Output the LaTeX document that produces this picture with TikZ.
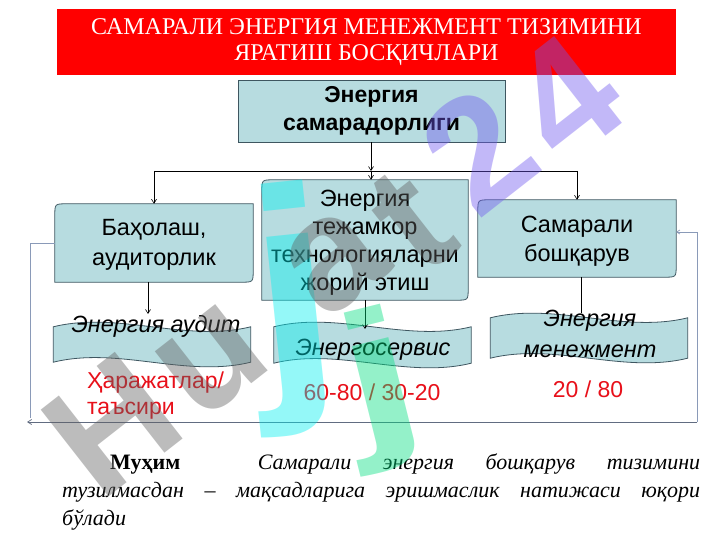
\documentclass[tikz,border=0pt]{standalone}
\usepackage{fontspec}
\setmainfont{Liberation Serif}
\newfontfamily\sansf{Liberation Sans}
\usetikzlibrary{arrows.meta,calc,backgrounds}
\definecolor{boxfill}{HTML}{B7DCE0}
\definecolor{boxline}{HTML}{3E5660}
\definecolor{redtxt}{HTML}{E8101A}
\definecolor{fbline}{HTML}{8A9AB8}
\definecolor{wmgray}{HTML}{606060}
\definecolor{wmcyan}{HTML}{00F0F0}
\definecolor{wmgreen}{HTML}{00E080}
\definecolor{wmpurple}{HTML}{7058F0}
\newcommand\rdshape[1]{%
  \path[boxshape] ([yshift=-12pt]#1.north west) .. controls (#1.north west) .. ([xshift=12pt]#1.north west)
    -- (#1.north east) -- ([yshift=12pt]#1.south east) .. controls (#1.south east) .. ([xshift=-12pt]#1.south east)
    -- (#1.south west) -- cycle;}
\newcommand\waveshape[1]{%
  \path[boxshape] (#1.north west) .. controls ($(#1.north west)!.33!(#1.north east)+(0,-16)$) and ($(#1.north west)!.67!(#1.north east)+(0,16)$) .. (#1.north east)
    -- (#1.south east) .. controls ($(#1.south west)!.67!(#1.south east)+(0,16)$) and ($(#1.south west)!.33!(#1.south east)+(0,-16)$) .. (#1.south west) -- cycle;}
\begin{document}
\begin{tikzpicture}[x=1pt,y=-1pt,font=\sansf,
  boxshape/.style={draw=boxline,fill=boxfill,line width=0.8pt},
  holder/.style={inner sep=0pt},
  boxtext/.style={font=\sansf\fontsize{23.5}{28}\selectfont,align=center,inner sep=0pt},
  bantext/.style={font=\sansf\itshape\fontsize{23.5}{31}\selectfont,align=center,inner sep=0pt},
  redt/.style={text=redtxt,font=\sansf\fontsize{23}{26}\selectfont,inner sep=0pt},
  conn/.style={draw=black,line width=0.6pt,-{Straight Barb[length=4pt,width=5pt]}},
  plain/.style={draw=black,line width=0.6pt},
  fb/.style={draw=fbline,line width=0.7pt},
  fbarrow/.style={draw=fbline!70!black,line width=0.7pt,-{Straight Barb[length=4pt,width=5pt]}},
  wm/.style={inner sep=0pt,opacity=0.42,font=\sansf\bfseries\fontsize{160}{160}\selectfont}]
\useasboundingbox (0,0) rectangle (720,540);

% title
\node[fill=red,minimum width=619pt,minimum height=66pt,inner sep=0pt,text=white,
  font=\rmfamily\fontsize{24}{26}\selectfont,align=center] (title) at (366.5,42)
  {САМАРАЛИ ЭНЕРГИЯ МЕНЕЖМЕНТ ТИЗИМИНИ\\ЯРАТИШ БОСҚИЧЛАРИ};

% top box
\node[draw=boxline,fill=boxfill,line width=0.8pt,minimum width=267pt,minimum height=62pt,inner sep=0pt,
  font=\sansf\bfseries\fontsize{23}{28}\selectfont,align=center] (top) at (371.5,111)
  {Энергия\\самарадорлиги};

% three main boxes (shapes) and their texts
\node[holder,minimum width=198pt,minimum height=78pt] (lft) at (154,243) {};
\node[holder,minimum width=206pt,minimum height=120pt] (ctr) at (365,240) {};
\node[holder,minimum width=198pt,minimum height=77pt] (rgt) at (577,238.5) {};
\node[boxtext,font=\sansf\fontsize{23.5}{30}\selectfont] (lftt) at (154,245) {Баҳолаш,\\аудиторлик};
\node[boxtext] (ctrt) at (365,243) {Энергия\\тежамкор\\технологияларни\\жорий этиш};
\node[boxtext,font=\sansf\fontsize{23.5}{29}\selectfont] (rgtt) at (577,241) {Самарали\\бошқарув};

% banners
\node[holder,minimum width=197pt,minimum height=35pt] (ban1) at (152,344.5) {};
\node[holder,minimum width=197pt,minimum height=36pt] (ban2) at (372.5,345) {};
\node[holder,minimum width=197pt,minimum height=40pt] (ban3) at (589,338) {};

\begin{scope}[on background layer]
  \fill[white] (0,0) rectangle (720,540);
  \rdshape{lft}
  \rdshape{ctr}
  \rdshape{rgt}
  \waveshape{ban1}
  \waveshape{ban2}
  \waveshape{ban3}
\end{scope}

\node[bantext] (t1) at (156,326) {Энергия аудит};
\node[bantext] (t2) at (373,350) {Энергосервис};
\node[bantext] (t3) at (590,334) {Энергия\\менежмент};

% red figures
\node[redt,anchor=west,align=left] (r1) at (87,396) {Ҳаражатлар/\\таъсири};
\node[redt] (r2) at (372,392) {60-80 / 30-20};
\node[redt] (r3) at (588,389) {20 / 80};

% connectors
\coordinate (jn) at (371,171);
\coordinate (jl) at (154,171);
\coordinate (jr) at (577,171);
\draw[conn] (top.south -| jn) -- (jn);
\draw[conn] (jn) -- (jn |- ctr.north);
\draw[plain] (jl) -- (jr);
\draw[conn] (jl) -- (jl |- lft.north);
\draw[conn] (jr) -- (jr |- rgt.north);
\coordinate (al) at (148,314);
\coordinate (ac) at (365,329);
\coordinate (ar) at (581,313);
\draw[conn] (al |- lft.south) -- (al);
\draw[conn] (ac |- ctr.south) -- (ac);
\draw[plain] (ar |- rgt.south) -- (ar);

% feedback loop
\coordinate (fl) at (30,418);
\coordinate (fb0) at (27,422);
\coordinate (fb1) at (697,422);
\coordinate (fr) at (697,232);
\draw[fb] (lft.west) -| (fl);
\draw[fbarrow] (fb1) -- (fb0);
\draw[fb,-{Straight Barb[length=3pt,width=4pt]}] (fb1) -- (fr) -- (fr -| rgt.east);

% bottom text
\node[anchor=base west,inner sep=0pt,font=\rmfamily\fontsize{22}{27}\selectfont] (ln1) at (62,469)
  {\makebox[638pt][s]{\hspace{48pt}\textbf{Муҳим}\hspace{46pt} \textit{Самарали энергия бошқарув тизимини}}};
\node[anchor=base west,inner sep=0pt,font=\rmfamily\itshape\fontsize{22}{27}\selectfont] (ln2) at (62,497)
  {\makebox[638pt][s]{тузилмасдан – мақсадларига эришмаслик натижаси юқори}};
\node[anchor=base west,inner sep=0pt,font=\rmfamily\itshape\fontsize{22}{27}\selectfont] (ln3) at (62,525)
  {бўлади};

% watermark
\node[wm,rotate=38,text=wmgray] (wmH) at (112,425) {H};
\node[wm,rotate=38,text=wmgray] (wmu) at (212,362) {u};
\node[wm,rotate=6,xscale=1.9,yscale=1.7,text=wmcyan] (wmj1) at (295,308) {j};
\node[wm,rotate=14,xscale=1.7,yscale=1.1,text=wmgreen] (wmj2) at (382,388) {j};
\node[wm,rotate=38,text=wmgray] (wma) at (335,262) {a};
\node[wm,rotate=38,text=wmgray] (wmt) at (412,222) {t};
\node[wm,rotate=38,text=wmpurple] (wm2) at (478,150) {2};
\node[wm,rotate=38,text=wmpurple] (wm4) at (566,98) {4};
\end{tikzpicture}
\end{document}
